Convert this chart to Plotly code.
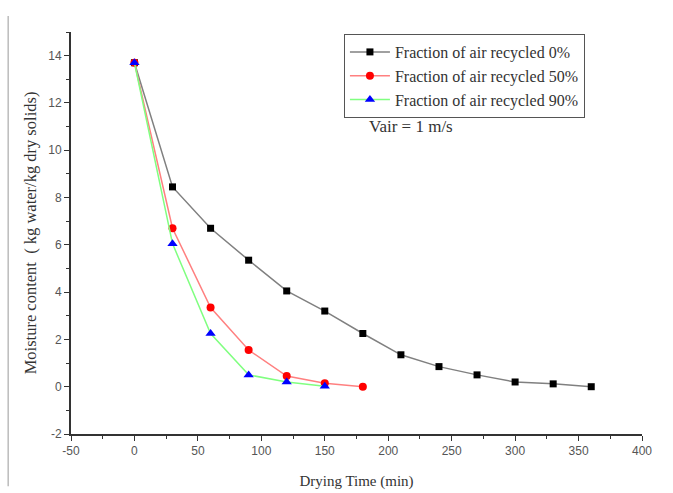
import plotly.graph_objects as go

t0 = [0, 30, 60, 90, 120, 150, 180, 210, 240, 270, 300, 330, 360]
m0 = [13.7, 8.45, 6.7, 5.35, 4.05, 3.2, 2.25, 1.35, 0.85, 0.5, 0.2, 0.12, 0.0]
t50 = [0, 30, 60, 90, 120, 150, 180]
m50 = [13.7, 6.7, 3.35, 1.55, 0.45, 0.15, 0.0]
t90 = [0, 30, 60, 90, 120, 150]
m90 = [13.7, 6.05, 2.25, 0.5, 0.2, 0.02]

names = ["Fraction of air recycled 0%", "Fraction of air recycled 50%", "Fraction of air recycled 90%"]
x_ticks = [-50, 0, 50, 100, 150, 200, 250, 300, 350, 400]
y_ticks = [-2, 0, 2, 4, 6, 8, 10, 12, 14]

SERIF = "Liberation Serif, Times New Roman"

fig = go.Figure()
fig.add_trace(go.Scatter(x=t0, y=m0, name=names[0], mode="lines+markers",
                         line=dict(color="#808080", width=1.5),
                         marker=dict(symbol="square", color="black", size=7)))
fig.add_trace(go.Scatter(x=t50, y=m50, name=names[1], mode="lines+markers",
                         line=dict(color="#ff8080", width=1.5),
                         marker=dict(symbol="circle", color="red", size=8)))
fig.add_trace(go.Scatter(x=t90, y=m90, name=names[2], mode="lines+markers",
                         line=dict(color="#80ff80", width=1.5),
                         marker=dict(symbol="triangle-up", color="blue", size=9)))

axis_common = dict(showgrid=False, zeroline=False, showline=True, linecolor="#333333", linewidth=1.8,
                   ticks="outside", ticklen=5, tickwidth=1.3, tickcolor="#333333",
                   tickfont=dict(family="Liberation Sans, Arial", size=12, color="#555555"),
                   mirror=False, automargin=False)

fig.update_layout(
    width=673, height=493,
    margin=dict(l=71, r=31, t=32, b=59),
    paper_bgcolor="white", plot_bgcolor="white",
    font=dict(family=SERIF, size=15, color="#333333"),
    xaxis=dict(range=[-50, 400], tickvals=x_ticks, ticktext=[str(v) for v in x_ticks],
               minor=dict(dtick=25, ticks="outside", ticklen=3, tickcolor="#333333"),
               title=dict(text="Drying Time (min)", font=dict(size=15), standoff=18),
               **axis_common),
    yaxis=dict(range=[-2, 15], tickvals=y_ticks, ticktext=[str(v) for v in y_ticks],
               minor=dict(dtick=1, ticks="outside", ticklen=3, tickcolor="#333333"),
               title=dict(text="Moisture content  ( kg water/kg dry solids)", font=dict(size=16.5), standoff=8),
               **axis_common),
    legend=dict(x=0.478, y=0.995, xanchor="left", yanchor="top",
                bordercolor="#555555", borderwidth=1, bgcolor="white",
                font=dict(size=16, family=SERIF, color="#333333"),
                itemwidth=40),
    showlegend=True,
)

fig.add_annotation(x=0.518, y=0.764, xref="paper", yref="paper", text="Vair = 1 m/s",
                   showarrow=False, xanchor="left", yanchor="middle",
                   font=dict(size=17, family=SERIF, color="#333333"))

fig.add_shape(type="line", xref="paper", yref="paper", x0=-0.11, x1=-0.11, y0=1.04, y1=-0.13,
              line=dict(color="#bbbbbb", width=1.5))

fig.write_html("out.html")
